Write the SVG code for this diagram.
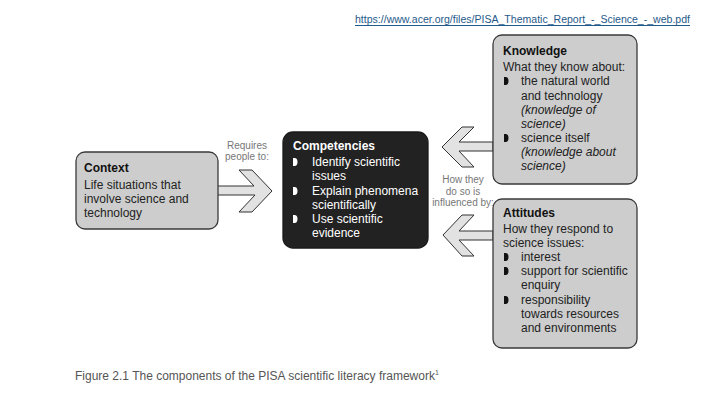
<svg xmlns="http://www.w3.org/2000/svg" width="720" height="405" viewBox="0 0 720 405">
<style>
text{font-family:"Liberation Sans",Arial,sans-serif;}
.box{fill:#cdcdcd;stroke:#3a3a3a;stroke-width:1.3;}
.dark{fill:#222;stroke:#1a1a1a;stroke-width:1.3;}
.t{font-size:12px;fill:#222;}
.h{font-size:12px;font-weight:bold;fill:#111;}
.w{font-size:12px;fill:#fff;}
.wh{font-size:12px;font-weight:bold;fill:#fff;}
.i{font-style:italic;}
.lbl{font-size:10px;fill:#777;text-anchor:middle;}
.arr{fill:#e2e2e2;stroke:#333;stroke-width:1;stroke-linejoin:miter;}
.cap{font-size:12px;fill:#555;}
.url{font-size:10px;fill:#1f5a8a;}
</style>
<defs>
<path id="bul" d="M0,-8 h1.5 a3,4 0 0 1 0,8 h-1.5 z"/>
</defs>

<a href="https://www.acer.org/files/PISA_Thematic_Report_-_Science_-_web.pdf">
<text class="url" x="355" y="23" textLength="335" lengthAdjust="spacingAndGlyphs">https://www.acer.org/files/PISA_Thematic_Report_-_Science_-_web.pdf</text>
<line x1="355" y1="25.5" x2="690" y2="25.5" stroke="#1f5a8a" stroke-width="1"/>
</a>

<g id="connectors">
<polygon class="arr" points="217,186 254,186 239,170 252,170 272,191 252,212 239,212 255,195 217,195"/>
<polygon class="arr" points="493,142 459,142 474,127 462,127 442,147 462,167 474,167 459,151 493,151"/>
<polygon class="arr" points="493,231 459,231 474,215 462,215 443,235 462,256 474,256 459,240 493,240"/>
<text class="lbl" x="247" y="149">Requires</text>
<text class="lbl" x="247" y="160">people to:</text>
<text class="lbl" x="463" y="183">How they</text>
<text class="lbl" x="463" y="194.5">do so is</text>
<text class="lbl" x="463" y="206">influenced by:</text>
</g>

<g id="context">
<rect class="box" x="76" y="152" width="142" height="77" rx="9"/>
<text class="h" x="84" y="172">Context</text>
<text class="t" x="84" y="189">Life situations that</text>
<text class="t" x="84" y="203">involve science and</text>
<text class="t" x="84" y="217">technology</text>
</g>

<g id="competencies">
<rect class="dark" x="283" y="132" width="145" height="116" rx="10"/>
<text class="wh" x="293" y="150">Competencies</text>
<use href="#bul" x="293" y="166" fill="#fff"/>
<text class="w" x="312" y="166">Identify scientific</text>
<text class="w" x="312" y="180">issues</text>
<use href="#bul" x="293" y="195" fill="#fff"/>
<text class="w" x="312" y="195">Explain phenomena</text>
<text class="w" x="312" y="209">scientifically</text>
<use href="#bul" x="293" y="223" fill="#fff"/>
<text class="w" x="312" y="223">Use scientific</text>
<text class="w" x="312" y="237">evidence</text>
</g>

<g id="knowledge">
<rect class="box" x="493" y="35" width="144" height="149" rx="9"/>
<text class="h" x="503" y="55">Knowledge</text>
<text class="t" x="503" y="71">What they know about:</text>
<use href="#bul" x="504" y="85" fill="#111"/>
<text class="t" x="521" y="85">the natural world</text>
<text class="t" x="521" y="100">and technology</text>
<text class="t i" x="521" y="114">(knowledge of</text>
<text class="t i" x="521" y="128">science)</text>
<use href="#bul" x="504" y="142" fill="#111"/>
<text class="t" x="521" y="142">science itself</text>
<text class="t i" x="521" y="156">(knowledge about</text>
<text class="t i" x="521" y="170">science)</text>
</g>

<g id="attitudes">
<rect class="box" x="493" y="199" width="144" height="149" rx="9"/>
<text class="h" x="503" y="217">Attitudes</text>
<text class="t" x="503" y="233">How they respond to</text>
<text class="t" x="503" y="247">science issues:</text>
<use href="#bul" x="504" y="261" fill="#111"/>
<text class="t" x="521" y="261">interest</text>
<use href="#bul" x="504" y="275" fill="#111"/>
<text class="t" x="521" y="275">support for scientific</text>
<text class="t" x="521" y="289">enquiry</text>
<use href="#bul" x="504" y="304" fill="#111"/>
<text class="t" x="521" y="304">responsibility</text>
<text class="t" x="521" y="318">towards resources</text>
<text class="t" x="521" y="332">and environments</text>
</g>

<text class="cap" x="75" y="380">Figure 2.1  The components of the PISA scientific literacy framework<tspan font-size="7" dy="-5">1</tspan></text>
</svg>
